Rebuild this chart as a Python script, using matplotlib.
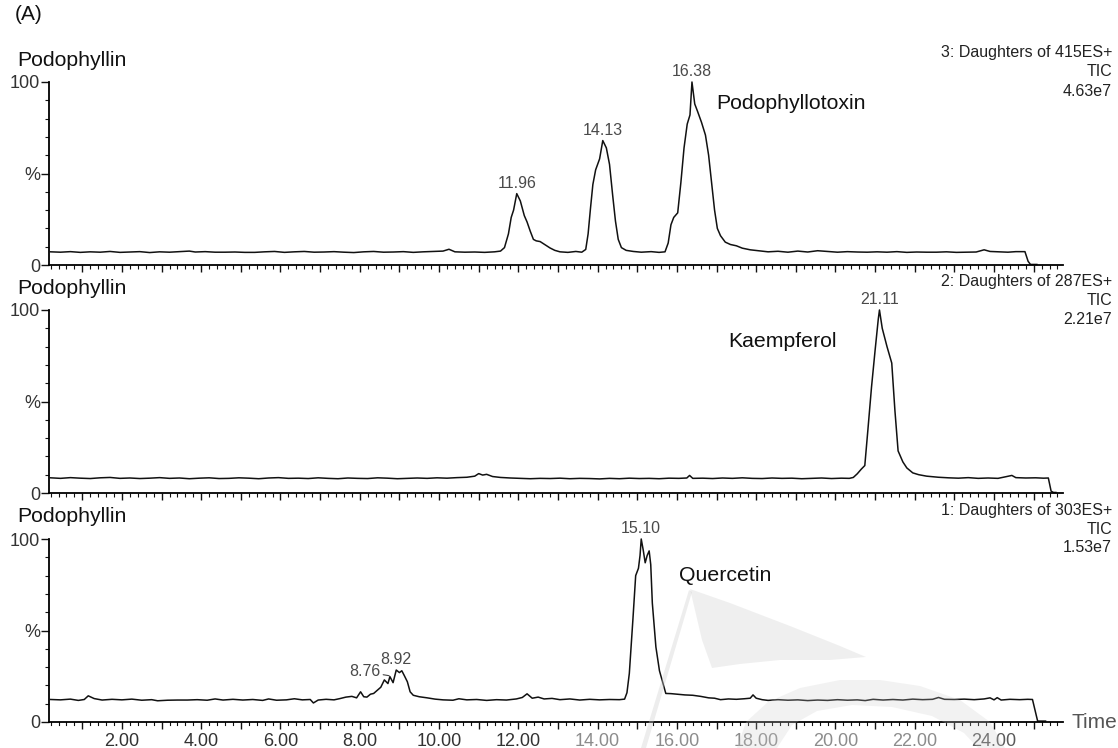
import numpy as np
import matplotlib.pyplot as plt
from matplotlib.ticker import MultipleLocator, FixedLocator
from matplotlib.patches import Polygon

plt.rcParams['font.family'] = ['Liberation Sans', 'DejaVu Sans']

# ---- data (time in min, intensity in %) ----
# 3: Daughters of 415ES+  (podophyllotoxin channel)
t_415 = [0.20, 0.45, 0.70, 0.95, 1.20, 1.45, 1.70, 1.95, 2.20, 2.45, 2.70, 2.95,
         3.20, 3.45, 3.70, 3.85, 4.10, 4.35, 4.60, 4.85, 5.10, 5.35, 5.60, 5.85,
         6.10, 6.35, 6.60, 6.85, 7.10, 7.35, 7.60, 7.85, 8.10, 8.35, 8.60, 8.85,
         9.10, 9.35, 9.60, 9.85, 10.10, 10.25, 10.40, 10.65, 10.90, 11.15, 11.40,
         11.55, 11.65, 11.75, 11.82, 11.88, 11.96, 12.05, 12.15, 12.22, 12.30,
         12.38, 12.45, 12.55, 12.68, 12.80, 12.92, 13.05, 13.25, 13.45, 13.60,
         13.70, 13.76, 13.82, 13.88, 13.95, 14.05, 14.13, 14.22, 14.30, 14.38,
         14.45, 14.52, 14.60, 14.72, 14.90, 15.10, 15.35, 15.55, 15.70, 15.78,
         15.85, 15.92, 16.02, 16.10, 16.18, 16.26, 16.33, 16.38, 16.45, 16.52,
         16.62, 16.72, 16.80, 16.88, 16.95, 17.02, 17.10, 17.22, 17.35, 17.50,
         17.65, 17.85, 18.05, 18.30, 18.55, 18.80, 19.05, 19.30, 19.55, 19.80,
         20.05, 20.30, 20.55, 20.80, 21.05, 21.30, 21.55, 21.80, 22.05, 22.30,
         22.55, 22.80, 23.05, 23.30, 23.55, 23.75, 23.90, 24.10, 24.35, 24.55,
         24.78, 24.86, 24.92, 25.08]
i_415 = [7.2, 7.0, 7.3, 6.9, 7.2, 7.0, 7.4, 6.9, 7.1, 7.3, 6.8, 7.2,
         7.0, 7.3, 7.6, 7.1, 7.3, 7.0, 7.0, 7.1, 6.9, 6.9, 7.2, 7.4,
         6.9, 7.2, 7.4, 7.0, 7.1, 7.3, 7.0, 6.8, 7.2, 7.4, 7.0, 7.1,
         7.3, 6.9, 7.2, 7.4, 7.6, 8.6, 7.2, 7.0, 7.1, 6.9, 7.2,
         7.6, 9.5, 17.0, 26.0, 30.0, 39.0, 35.0, 27.0, 23.5, 18.5,
         14.0, 13.2, 12.8, 11.0, 9.3, 8.0, 7.2, 6.9, 7.4, 7.0,
         8.5, 17.0, 31.0, 44.0, 52.0, 58.0, 68.0, 64.0, 55.0, 38.0,
         24.0, 14.0, 9.5, 8.0, 7.4, 7.0, 7.3, 6.9, 7.2, 12.0,
         22.0, 26.0, 28.5, 45.0, 64.0, 77.0, 82.0, 100.0, 88.0, 84.0,
         78.0, 71.0, 60.0, 44.0, 30.0, 20.0, 16.0, 12.5, 11.2, 10.5,
         9.2, 8.3, 7.8, 7.2, 7.5, 7.0, 7.6, 7.1, 7.8, 7.4,
         7.0, 7.3, 7.1, 7.0, 7.2, 7.0, 7.3, 6.9, 7.1, 7.0,
         7.0, 7.2, 6.9, 7.0, 7.1, 8.3, 7.4, 7.2, 7.0, 7.3,
         7.3, 2.0, 0.3, 0.3]

# 2: Daughters of 287ES+  (kaempferol channel)
t_287 = [0.20, 0.45, 0.70, 0.95, 1.20, 1.45, 1.70, 1.95, 2.20, 2.45, 2.70, 2.95,
         3.20, 3.45, 3.70, 3.95, 4.20, 4.45, 4.70, 4.95, 5.20, 5.45, 5.70, 5.95,
         6.20, 6.45, 6.70, 6.95, 7.20, 7.45, 7.70, 7.95, 8.20, 8.45, 8.70, 8.95,
         9.20, 9.45, 9.70, 9.95, 10.20, 10.45, 10.70, 10.90, 11.00, 11.10, 11.20,
         11.35, 11.55, 11.80, 12.05, 12.30, 12.55, 12.80, 13.05, 13.30, 13.55,
         13.80, 14.05, 14.30, 14.55, 14.80, 15.05, 15.30, 15.55, 15.80, 16.05,
         16.25, 16.32, 16.40, 16.65, 16.90, 17.15, 17.40, 17.65, 17.90, 18.15,
         18.40, 18.65, 18.90, 19.15, 19.40, 19.65, 19.90, 20.15, 20.35, 20.45,
         20.55, 20.65, 20.74, 20.82, 20.91, 21.00, 21.08, 21.11, 21.18, 21.30,
         21.42, 21.50, 21.58, 21.70, 21.80, 21.95, 22.10, 22.30, 22.60, 22.85,
         23.10, 23.35, 23.60, 23.85, 24.10, 24.30, 24.45, 24.55, 24.80, 25.05,
         25.25, 25.37, 25.44, 25.50, 25.56]
i_287 = [8.3, 8.0, 8.4, 8.1, 7.9, 8.3, 8.5, 8.0, 8.2, 7.9, 8.1, 8.4,
         8.0, 8.2, 7.8, 8.1, 8.3, 7.9, 8.0, 8.3, 8.1, 7.8, 8.2, 8.4,
         8.0, 8.1, 7.9, 8.3, 8.0, 7.8, 8.2, 8.0, 7.9, 8.3, 8.1, 7.8,
         8.0, 8.2, 8.0, 8.3, 8.1, 8.4, 8.6, 9.2, 10.6, 9.8, 10.2,
         9.0, 8.5, 8.2, 8.0, 7.8, 8.0, 7.9, 8.1, 7.8, 8.0,
         7.9, 7.7, 8.0, 7.8, 8.1, 7.9, 8.0, 7.8, 8.1, 8.0,
         8.2, 9.6, 8.0, 8.1, 7.9, 8.2, 8.0, 8.3, 8.0, 7.9,
         8.2, 8.0, 8.1, 7.8, 8.0, 8.2, 7.9, 8.1, 8.0, 8.5,
         10.5, 13.0, 15.0, 35.0, 58.0, 78.0, 95.0, 100.0, 90.0, 80.0,
         71.0, 45.0, 23.0, 17.0, 13.7, 11.0, 10.0, 9.2, 8.6, 8.3,
         8.1, 8.4, 8.0, 8.2, 8.0, 8.9, 9.6, 8.4, 8.2, 8.3,
         8.1, 8.2, 1.0, 0.3, 0.3]

# 1: Daughters of 303ES+  (quercetin channel)
t_303 = [0.20, 0.45, 0.70, 0.90, 1.05, 1.15, 1.30, 1.50, 1.75, 2.00, 2.25, 2.50,
         2.75, 2.90, 3.15, 3.40, 3.65, 3.90, 4.15, 4.35, 4.55, 4.80, 5.05, 5.30,
         5.55, 5.70, 5.90, 6.15, 6.35, 6.55, 6.75, 6.83, 6.95, 7.15, 7.35, 7.50,
         7.65, 7.80, 7.92, 8.02, 8.10, 8.18, 8.27, 8.35, 8.45, 8.53, 8.62, 8.71,
         8.76, 8.84, 8.92, 9.00, 9.06, 9.12, 9.20, 9.27, 9.35, 9.50, 9.70, 9.90,
         10.10, 10.35, 10.50, 10.70, 10.95, 11.20, 11.45, 11.70, 11.95, 12.10,
         12.22, 12.35, 12.50, 12.65, 12.85, 13.05, 13.30, 13.55, 13.80, 14.05,
         14.30, 14.55, 14.68, 14.74, 14.80, 14.89, 14.96, 15.03, 15.07, 15.10,
         15.15, 15.20, 15.25, 15.30, 15.34, 15.38, 15.47, 15.56, 15.65, 15.72,
         15.85, 16.00, 16.20, 16.40, 16.60, 16.80, 16.95, 17.10, 17.30, 17.50,
         17.70, 17.85, 17.92, 18.00, 18.15, 18.30, 18.55, 18.80, 19.05, 19.30,
         19.55, 19.80, 20.05, 20.30, 20.55, 20.75, 20.95, 21.20, 21.45, 21.70,
         21.95, 22.20, 22.45, 22.60, 22.75, 23.00, 23.25, 23.50, 23.75, 23.90,
         24.00, 24.08, 24.18, 24.40, 24.65, 24.85, 24.97, 25.10, 25.30]
i_303 = [12.3, 12.1, 12.5, 11.8, 12.3, 14.3, 12.8, 12.0, 12.4, 12.1, 12.5, 11.9,
         12.2, 11.6, 11.9, 12.0, 12.0, 12.2, 11.9, 12.6, 12.0, 12.4, 12.0, 12.3,
         11.8, 12.6, 11.9, 12.1, 12.7, 12.1, 12.3, 10.4, 12.0, 12.4, 12.1, 12.8,
         13.6, 14.0, 13.2, 16.5, 13.8, 13.6, 15.2, 15.6, 17.5, 19.0, 23.0, 21.0,
         24.8, 21.5, 28.4, 27.0, 28.0, 25.5, 22.0, 16.5, 14.6, 13.8, 13.2, 12.5,
         12.1, 11.9, 12.7, 12.1, 12.3, 11.8, 12.2, 12.0, 12.6, 13.4,
         15.4, 13.0, 13.6, 12.6, 12.9, 12.2, 12.6, 12.0, 12.4, 12.1,
         12.3, 12.2, 12.5, 16.0, 26.6, 56.0, 80.0, 84.0, 91.0, 100.0,
         94.0, 87.0, 91.0, 93.5, 86.0, 65.0, 41.0, 28.0, 21.0, 15.6,
         15.5, 15.2, 14.8, 14.6, 14.0, 13.2, 13.0, 12.2, 12.6, 12.4,
         12.7, 13.0, 14.8, 13.0, 12.2, 11.8, 12.2, 11.9, 12.1, 11.7,
         12.0, 11.8, 12.2, 11.9, 12.1, 11.7, 12.4, 12.0, 12.3, 12.0,
         12.5, 12.2, 12.4, 13.4, 12.4, 12.3, 12.5, 12.2, 12.6, 13.2,
         12.1, 13.3, 12.0, 12.4, 12.2, 12.4, 12.3, 0.5, 0.5]

channels = ['3: Daughters of 415ES+', '2: Daughters of 287ES+', '1: Daughters of 303ES+']
tic_vals = ['4.63e7', '2.21e7', '1.53e7']
compounds = ['Podophyllotoxin', 'Kaempferol', 'Quercetin']
compound_pos = [(16.99, 88.5), (17.29, 83.0), (16.05, 80.0)]
peak_labels = [[11.96, 14.13, 16.38], [21.11], [8.92, 15.10]]
x_ticks = [2, 4, 6, 8, 10, 12, 14, 16, 18, 20, 22, 24]

traces = [(t_415, i_415), (t_287, i_287), (t_303, i_303)]

W, H = 1118, 748
fig = plt.figure(figsize=(W / 100, H / 100), dpi=100)

def fx(px):
    return px / W

def fy(py):
    return 1 - py / H

# pixel rows of the 100 and 0 lines of each panel
rows = [(82, 265), (310, 493), (539, 722)]
x_left, x_right = 49, 1063
tmin, tmax = 0.16, 25.74

for k, ((t, y), (ytop, ybot)) in enumerate(zip(traces, rows)):
    ax = fig.add_axes([fx(x_left), fy(ybot), fx(x_right - x_left), (ybot - ytop) / H])
    ax.plot(t, y, color='#111', lw=1.1, clip_on=False)
    ax.set_xlim(tmin, tmax)
    ax.set_ylim(0, 100)
    for s in ['top', 'right']:
        ax.spines[s].set_visible(False)
    for s in ['left', 'bottom']:
        ax.spines[s].set_linewidth(1.3)
    ax.patch.set_alpha(0)

    ax.xaxis.set_major_locator(MultipleLocator(1))
    ax.xaxis.set_minor_locator(MultipleLocator(0.2))
    ax.yaxis.set_major_locator(FixedLocator([0, 50, 100]))
    ax.yaxis.set_minor_locator(MultipleLocator(10))
    ax.tick_params(which='major', direction='out', length=5, width=1.0, colors='#111')
    ax.tick_params(which='minor', direction='out', length=3, width=0.8, colors='#111')
    ax.tick_params(axis='y', which='major', length=6, pad=0.5, labelsize=13, labelcolor='#333')
    ax.set_yticklabels(['0', '%', '100'])

    if k == 2:
        ax.xaxis.set_major_locator(FixedLocator(x_ticks))
        ax.set_xticks([v for v in range(1, 26) if v % 2 == 1], minor=True)
        ax.set_xticklabels([f'{v:.2f}' for v in x_ticks])
        ax.tick_params(axis='x', which='major', labelsize=13, labelcolor='#333', pad=3)
        for lab, v in zip(ax.get_xticklabels(), x_ticks):
            if 14 <= v <= 22:
                lab.set_color('#8c8c8c')
            elif v == 24:
                lab.set_color('#5a5a5a')
        # extra small ticks every 0.2 min
        for v in np.arange(0.2, 25.7, 0.2):
            if abs(v - round(v)) > 0.01:
                ax.plot([v, v], [0, -1.6], color='#111', lw=0.8, clip_on=False)
        ax.tick_params(axis='x', which='minor', length=5, width=1.0)
    else:
        ax.set_xticklabels([])

    # peak apex labels
    for p in peak_labels[k]:
        idx = int(np.argmin(np.abs(np.array(t) - p)))
        ax.annotate(f'{p:.2f}', xy=(t[idx], y[idx]), xytext=(0, 2),
                    textcoords='offset points', ha='center', va='bottom',
                    fontsize=11.5, color='#4a4a4a')

    ax.text(compound_pos[k][0], compound_pos[k][1], compounds[k], fontsize=15.3,
            color='#111', ha='left', va='center')

    fig.text(fx(17), fy(ytop - 22), 'Podophyllin', fontsize=15.3, color='#111',
             ha='left', va='center')
    for j, line in enumerate([channels[k], 'TIC', tic_vals[k]]):
        fig.text(fx(1112), fy(ytop - 29 + 19 * j), line, fontsize=11.5,
                 color='#222', ha='right', va='center')

    if k == 2:
        # 8.76 shoulder label with a short leader line
        ax.annotate('8.76', xy=(8.74, 25.3), xytext=(8.52, 27.5),
                    ha='right', va='center', fontsize=11.5, color='#4a4a4a',
                    arrowprops=dict(arrowstyle='-', color='#444', lw=0.8,
                                    shrinkA=0, shrinkB=0))

fig.text(fx(1072), fy(723), 'Time', fontsize=15, color='#555', ha='left', va='center')
fig.text(fx(15), fy(15), '(A)', fontsize=15, color='#111', ha='left', va='center')

# faint publisher watermark in the lower right corner (pixel outlines)
def wm(points, alpha):
    xy = [(fx(px), fy(py)) for px, py in points]
    fig.patches.append(Polygon(xy, closed=True, transform=fig.transFigure,
                               facecolor='#cccccc', edgecolor='none', alpha=alpha,
                               zorder=5))

wm([(641, 748), (646, 748), (692, 592), (689, 590)], 0.35)
wm([(690, 589), (730, 603), (790, 626), (840, 646), (866, 657), (830, 660), (780, 660),
    (740, 664), (712, 668), (702, 640)], 0.3)
wm([(737, 748), (746, 722), (768, 702), (800, 688), (840, 680), (880, 680), (920, 686),
    (960, 700), (990, 722), (1005, 748), (978, 748), (964, 733), (932, 716), (892, 707),
    (852, 705), (817, 711), (792, 725), (777, 748)], 0.25)

fig.savefig('out.png', dpi=100)
